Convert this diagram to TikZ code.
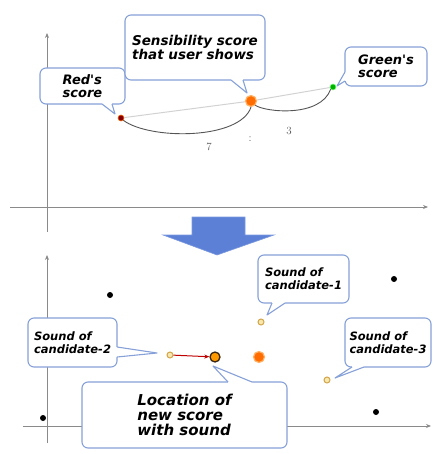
\documentclass[tikz,border=0pt]{standalone}
\usepackage{fontspec}
\newfontfamily\handfont{DejaVu Sans}
\usetikzlibrary{arrows.meta}
\definecolor{calloutblue}{HTML}{86A0D8}
\definecolor{arrowblue}{HTML}{5B80D6}
\definecolor{axisgray}{HTML}{8A8A8A}
\definecolor{curvegray}{HTML}{555555}
\definecolor{candring}{HTML}{D2A54A}
\definecolor{candfill}{HTML}{F6E8AE}
\begin{document}
\begin{tikzpicture}[x=1pt,y=-1pt,
  axis/.style={draw=axisgray, line width=0.8pt, -{Stealth[length=5pt,width=4pt]}},
  callbox/.style={draw=calloutblue, fill=white, line width=1.1pt, rounded corners=6pt,
    inner sep=0pt, align=left, font=\handfont\bfseries\itshape\fontsize{13}{13}\selectfont},
  pointerfill/.style={fill=white},
  pointerline/.style={draw=calloutblue, line width=1.1pt, line join=round},
  dot/.style={circle, inner sep=0pt, minimum size=#1},
  blackdot/.style={dot=6pt, fill=black},
  canddot/.style={dot=6pt, fill=candfill, draw=candring, line width=1pt},
  ratio/.style={text=curvegray, font=\fontsize{11}{11}\selectfont, inner sep=0pt}]
\useasboundingbox (0,0) rectangle (432,454);

% ---------- upper graph ----------
\coordinate (ay0) at (47,232);  \coordinate (ay1) at (47,33);
\coordinate (ax0) at (10,207);  \coordinate (ax1) at (428,207);
\draw[axis] (ay0) -- (ay1);
\draw[axis] (ax0) -- (ax1);

\node[dot=6pt, fill=red!50!black, draw=orange!80!red, line width=0.6pt] (red) at (121,118) {};
\node[dot=6pt, fill=green!70!black, draw=green!50, line width=0.6pt] (green) at (333,87) {};
\node[dot=11pt, fill=orange!85!red, draw=orange!60, line width=1.2pt] (user) at (251,101) {};

\draw[gray!35, line width=1pt] (red) -- (user) -- (green);
\draw[curvegray, line width=0.9pt] (red.south east) .. controls (150,140) and (240,140) .. (user.south);
\draw[curvegray, line width=0.9pt] (user.south east) .. controls (265,112) and (320,118) .. (green.south west);

\node[ratio] (seven) at (209,147) {7};
\node[ratio] (colon) at (250,139) {:};
\node[ratio] (three) at (289,131) {3};

% callouts of the upper graph
\node[callbox, minimum width=85pt, minimum height=36pt] (redbox) at (82.5,86) {Red's\\score};
\node[callbox, minimum width=140pt, minimum height=65pt,
      font=\handfont\bfseries\itshape\fontsize{13.5}{14}\selectfont] (userbox) at (195,47.5)
      {Sensibility score\\that user shows};
\node[callbox, minimum width=82pt, minimum height=39pt] (greenbox) at (386,66.5) {Green's\\score};

\fill[pointerfill] (102,102) -- (102,104) -- (115,114) -- (112,104) -- (112,102) -- cycle;
\draw[pointerline] (102,104) -- (115,114) -- (112,104);
\fill[pointerfill] (231,78) -- (231,80) -- (247,93) -- (243,80) -- (243,78) -- cycle;
\draw[pointerline] (231,80) -- (247,93) -- (243,80);
\fill[pointerfill] (347,72) -- (345,72) -- (337,86) -- (345,81) -- (347,81) -- cycle;
\draw[pointerline] (345,72) -- (337,86) -- (345,81);

% ---------- arrow between the graphs ----------
\fill[arrowblue, draw=arrowblue!80!white, line width=0.6pt]
  (192,217) -- (245,217) -- (245,235) -- (274,235) -- (217,255) -- (163,235) -- (192,235) -- cycle;

% ---------- lower graph ----------
\coordinate (by0) at (47,443);  \coordinate (by1) at (47,255);
\coordinate (bx0) at (23,426);  \coordinate (bx1) at (431,426);
\draw[axis] (by0) -- (by1);
\draw[axis] (bx0) -- (bx1);

\node[blackdot] (b1) at (110,295) {};
\node[blackdot] (b2) at (394,279) {};
\node[blackdot] (b3) at (43,418) {};
\node[blackdot] (b4) at (376,412) {};

\node[canddot] (c1) at (261,322) {};
\node[canddot] (c2) at (170,355) {};
\node[canddot] (c3) at (327,380) {};
\node[dot=11pt, fill=orange!85!red, draw=orange!60, line width=1.2pt] (center) at (259,357) {};
\node[dot=10pt, fill=orange!80!yellow, draw=black!70!brown, line width=1.3pt] (newscore) at (215,357) {};

\draw[red!75!black, line width=1pt, -{Stealth[length=5pt,width=4pt]}] (c2) -- (newscore);

% callouts of the lower graph
\node[callbox, minimum width=91pt, minimum height=48pt,
      font=\handfont\bfseries\itshape\fontsize{11.5}{13}\selectfont] (c1box) at (303.5,279)
      {Sound of\\candidate-1};
\node[callbox, minimum width=89pt, minimum height=49pt,
      font=\handfont\bfseries\itshape\fontsize{11.5}{13}\selectfont] (c2box) at (72.5,342.5)
      {Sound of\\candidate-2};
\node[callbox, minimum width=86pt, minimum height=49pt,
      font=\handfont\bfseries\itshape\fontsize{11.5}{13}\selectfont] (c3box) at (388,342.5)
      {Sound of\\candidate-3};
\node[callbox, minimum width=205pt, minimum height=66pt,
      font=\handfont\bfseries\itshape\fontsize{15}{15}\selectfont] (newbox) at (184.5,415)
      {Location of\\new score\\with sound};

\fill[pointerfill] (272,301) -- (272,303) -- (267,315) -- (285,303) -- (285,301) -- cycle;
\draw[pointerline] (272,303) -- (267,315) -- (285,303);
\fill[pointerfill] (115,347) -- (117,347) -- (157,353) -- (117,357) -- (115,357) -- cycle;
\draw[pointerline] (117,347) -- (157,353) -- (117,357);
\fill[pointerfill] (352,365) -- (352,367) -- (335,378) -- (364,367) -- (364,365) -- cycle;
\draw[pointerline] (352,367) -- (335,378) -- (364,367);
\fill[pointerfill] (228,384) -- (228,382) -- (213,366) -- (252,382) -- (252,384) -- cycle;
\draw[pointerline] (228,382) -- (213,366) -- (252,382);
\end{tikzpicture}
\end{document}
